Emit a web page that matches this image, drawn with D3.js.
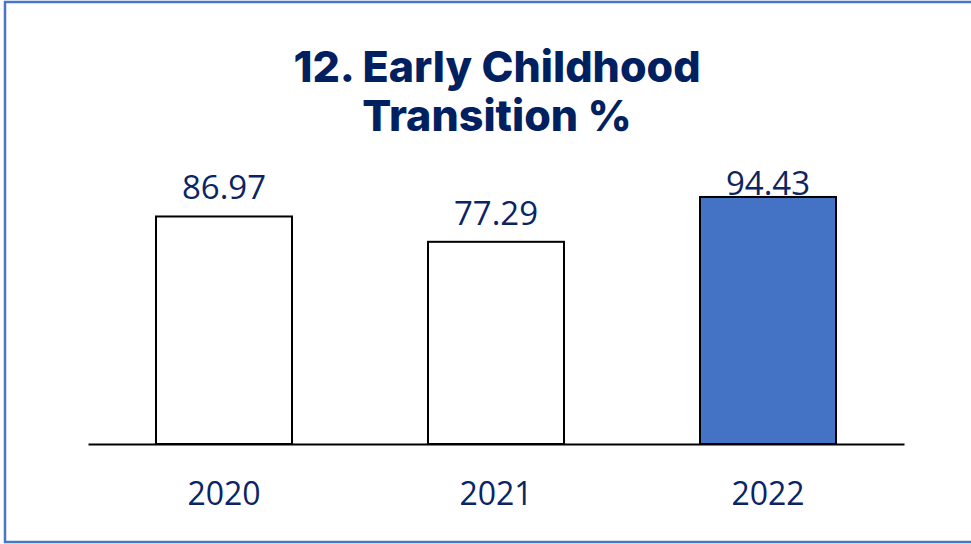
<!DOCTYPE html>
<html>
<head>
<meta charset="utf-8">
<title>Early Childhood Transition</title>
<script src="https://d3js.org/d3.v7.min.js"></script>
<style>
  html, body { margin: 0; padding: 0; background: #fff; }
  svg { display: block; }
</style>
</head>
<body>
<div id="chart"></div>
<script>
// chart data
var years = ["2020", "2021", "2022"];
var values = [86.97, 77.29, 94.43];
var titleLines = ["12. Early Childhood", "Transition %"];

var width = 971, height = 544;
var navy = "#0b2464";

var svg = d3.select("#chart").append("svg")
  .attr("width", width)
  .attr("height", height);

// outer frame
svg.append("rect")
  .attr("x", 5).attr("y", 2)
  .attr("width", width + 10).attr("height", height - 4)
  .attr("fill", "none")
  .attr("stroke", "#4a76c8")
  .attr("stroke-width", 2.5);

// title
svg.append("g").selectAll("text")
  .data(titleLines)
  .enter().append("text")
  .attr("x", 497)
  .attr("y", function(d, i) { return 82 + i * 49; })
  .attr("text-anchor", "middle")
  .attr("font-family", "Inter, 'Open Sans', sans-serif")
  .attr("font-weight", 800)
  .attr("font-size", 43)
  .attr("fill", "#002060")
  .text(function(d) { return d; });

// scales
var x = d3.scaleBand()
  .domain(years)
  .range([88, 904])
  .paddingInner(0.5)
  .paddingOuter(0.25);

var y = d3.scaleLinear()
  .domain([0, 100])
  .range([444, 182.4]);

// bars
svg.append("g").selectAll("rect")
  .data(values)
  .enter().append("rect")
  .attr("x", function(d, i) { return x(years[i]); })
  .attr("y", function(d) { return y(d); })
  .attr("width", x.bandwidth())
  .attr("height", function(d) { return y(0) - y(d); })
  .attr("fill", function(d, i) { return i == 2 ? "#4472c4" : "#ffffff"; })
  .attr("stroke", "#000")
  .attr("stroke-width", 2);

// value labels (kept inside the plot area like excel does)
svg.append("g").selectAll("text")
  .data(values)
  .enter().append("text")
  .attr("x", function(d, i) { return x(years[i]) + x.bandwidth() / 2; })
  .attr("y", function(d) { return Math.max(y(d) - 17, y(100) + 13); })
  .attr("text-anchor", "middle")
  .attr("font-family", "'Open Sans', sans-serif")
  .attr("font-size", 33)
  .attr("fill", navy)
  .text(function(d) { return d.toFixed(2); });

// x axis
var xAxis = svg.append("g")
  .attr("transform", "translate(0," + y(0) + ")")
  .call(d3.axisBottom(x).tickSize(0));

xAxis.select(".domain")
  .attr("stroke", "#000")
  .attr("stroke-width", 2);

xAxis.selectAll("text")
  .attr("y", 61)
  .attr("dy", null)
  .attr("font-family", "'Open Sans', sans-serif")
  .attr("font-size", 32)
  .attr("fill", navy);
</script>
</body>
</html>
